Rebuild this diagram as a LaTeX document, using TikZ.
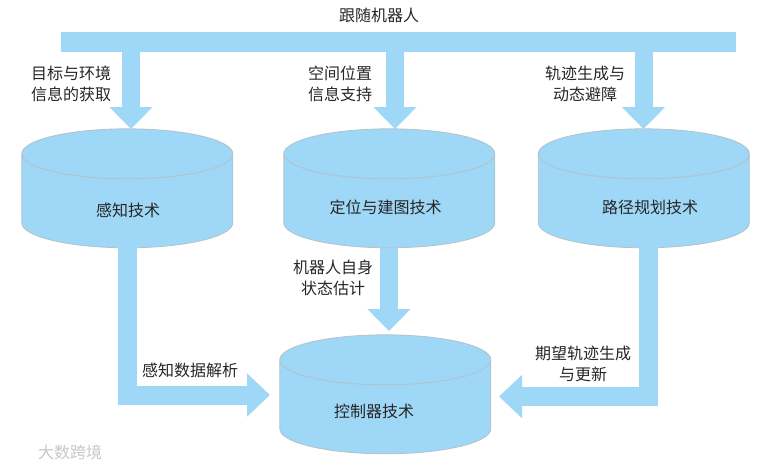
\documentclass[tikz,border=0pt]{standalone}
\usepackage{fontspec}
\setmainfont{Noto Sans CJK SC}
\usetikzlibrary{arrows.meta}
\definecolor{flowblue}{HTML}{9FD7F6}
\definecolor{rimgray}{HTML}{B3C1C9}
\tikzset{
  tech/.style={minimum width=211pt,minimum height=119pt,inner sep=0pt},
  rim/.style={draw=rimgray,line width=0.8pt},
  flow/.style={draw=flowblue,line width=18pt,-{Triangle[length=22pt,width=42pt]}},
  bentflow/.style={flow,line width=19pt,-{Triangle[length=23pt,width=42pt]}},
  lbl/.style={align=center,font=\fontsize{16}{21}\selectfont,text=black!85}
}
% drum: name, centre
\newcommand{\drum}[2]{
  \node[tech] (#1) at #2 {};
  \draw[rim,fill=flowblue] (#1.north west) ++(0,25) -- ++(0,69)
    arc[start angle=180,end angle=360,x radius=105.5pt,y radius=25pt] -- ++(0,-69)
    arc[start angle=0,end angle=180,x radius=105.5pt,y radius=25pt] -- cycle;
  \draw[rim] (#1.north west) ++(0,25)
    arc[start angle=180,end angle=360,x radius=105.5pt,y radius=25pt];
}
\begin{document}
\begin{tikzpicture}[x=1pt,y=-1pt]
\useasboundingbox (0,0) rectangle (769,467);

\node[fill=flowblue,minimum width=675pt,minimum height=20pt,inner sep=0pt] (bar) at (398.5,42) {};
\drum{sense}{(127.5,188.5)}
\drum{locate}{(389.5,188.5)}
\drum{plan}{(644,188.5)}
\drum{control}{(385.5,394.5)}

\coordinate (senseIn) at (131,129);
\coordinate (locateIn) at (395,129);
\coordinate (planIn) at (643.5,129);
\coordinate (controlTop) at (389,331);
\coordinate (controlLeft) at (270,395);
\coordinate (controlRight) at (499,396.5);

\draw[flow] (bar.south -| senseIn) -- (senseIn);
\draw[flow] (bar.south -| locateIn) -- (locateIn);
\draw[flow] (bar.south -| planIn) -- (planIn);
\draw[flow] (locate.south -| controlTop) -- (controlTop);
\draw[bentflow] (sense.south) ++(0,-1) |- (controlLeft);
\draw[bentflow] (plan.south) ++(4,-1) |- (controlRight);

\node[lbl] (robot) at (379,15) {跟随机器人};
\node[lbl] (senseLbl) at (71,83.5) {目标与环境\\信息的获取};
\node[lbl] (locateLbl) at (340,83.5) {空间位置\\信息支持};
\node[lbl] (planLbl) at (585,83.5) {轨迹生成与\\动态避障};
\node[lbl] (senseName) at (128,210) {感知技术};
\node[lbl] (locateName) at (385.5,207) {定位与建图技术};
\node[lbl] (planName) at (650,207) {路径规划技术};
\node[lbl] (stateLbl) at (333,277.5) {机器人自身\\状态估计};
\node[lbl] (dataLbl) at (190,370) {感知数据解析};
\node[lbl] (trackLbl) at (583,364) {期望轨迹生成\\与更新};
\node[lbl] (controlName) at (374,411) {控制器技术};
\node[lbl,text=black!22] (mark) at (70,452) {大数跨境};
\end{tikzpicture}
\end{document}
